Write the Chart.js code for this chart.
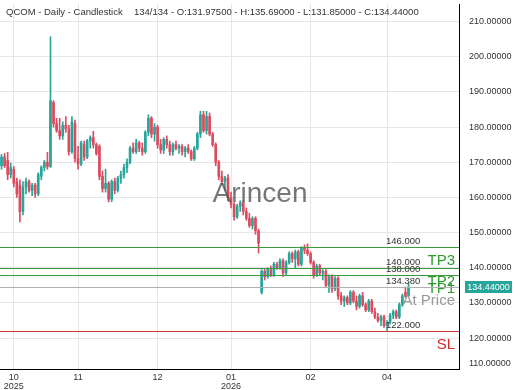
<!DOCTYPE html>
<html><head><meta charset="utf-8">
<script src="https://cdn.jsdelivr.net/npm/chart.js@4.4.1/dist/chart.umd.min.js"></script>
<style>html,body{margin:0;padding:0;background:#fff;overflow:hidden}canvas{display:block}</style>
</head><body>
<canvas id="c" width="520" height="390"></canvas>
<script>
const symbolTitle = 'QCOM - Daily - Candlestick';
const ohlcTitle = '134/134 - O:131.97500 - H:135.69000 - L:131.85000 - C:134.44000';

const opens = [
169.0,171.5,170.5,166.5,168.0,164.5,163.5,156.0,163.0,164.5,
162.0,163.5,161.0,166.0,168.5,170.0,168.8,187.0,181.0,179.0,
177.5,180.5,179.5,173.0,181.0,171.0,169.5,175.0,171.5,176.0,
177.0,175.0,174.5,166.0,162.5,164.0,159.5,164.5,162.0,165.5,
166.5,168.5,170.0,174.0,173.0,175.5,174.0,173.0,178.5,182.5,
178.0,180.0,175.0,173.5,176.5,175.0,173.0,175.0,174.0,174.5,
173.0,174.0,173.0,171.0,174.0,178.0,183.5,179.0,183.0,178.0,
175.0,170.0,166.0,164.5,165.5,160.0,158.0,154.5,157.5,158.5,
156.0,154.0,152.0,154.0,150.5,133.0,139.0,137.5,139.5,138.0,
141.0,140.0,142.0,138.5,141.5,144.0,142.5,144.5,141.0,145.5,
145.0,144.0,141.5,138.0,140.5,138.5,139.0,135.0,137.5,134.0,
137.0,132.0,130.5,131.5,130.0,133.0,130.5,129.0,132.0,129.5,
128.0,130.5,127.5,126.0,125.0,126.0,123.5,124.5,126.5,127.5,
126.0,129.5,133.0,131.975];
const highs = [
172.2,172.5,172.8,169.8,168.8,165.5,165.0,164.5,165.5,165.0,
164.0,164.0,167.0,169.0,170.5,172.8,205.7,187.5,182.5,182.5,
181.5,183.0,180.5,183.0,182.0,174.5,176.0,176.0,176.5,177.5,
178.8,175.5,175.0,167.5,168.0,164.5,165.0,165.5,166.0,167.5,
169.5,171.0,174.5,175.5,176.5,176.0,175.5,179.0,183.5,183.0,
181.0,180.5,176.5,177.0,177.5,176.0,175.5,176.0,175.0,175.0,
174.5,175.0,173.5,174.5,178.5,184.5,184.5,184.5,184.0,178.5,
175.5,170.5,167.5,166.0,166.5,161.5,158.5,158.0,159.0,159.0,
157.0,155.5,154.5,154.5,151.0,139.5,139.5,140.0,140.5,141.5,
141.5,142.5,142.5,142.0,144.5,144.5,145.0,145.0,146.0,146.5,
146.8,144.5,142.0,141.0,141.0,139.5,139.5,138.0,138.0,137.5,
137.5,133.0,132.0,132.0,133.5,133.5,132.0,132.5,133.0,130.0,
131.0,131.0,128.5,127.0,126.5,126.5,125.0,127.0,128.0,128.0,
130.0,132.5,134.5,135.69];
const lows = [
168.0,168.5,165.0,165.5,163.0,160.0,153.0,155.0,161.0,161.5,
160.5,160.0,160.5,165.0,167.5,168.0,168.5,180.0,178.5,176.5,
176.5,178.5,172.0,172.5,170.0,168.0,169.0,170.5,171.0,174.0,
174.0,172.0,165.0,161.5,161.5,158.7,158.8,161.0,161.5,164.0,
165.5,167.0,169.5,172.5,172.5,173.0,172.0,172.5,177.5,177.0,
176.0,174.0,172.5,172.5,174.0,172.0,172.0,173.5,172.5,172.0,
171.5,172.5,170.5,170.5,173.5,177.0,178.5,178.0,177.5,174.5,
169.0,165.0,163.5,162.0,159.0,157.0,153.5,154.0,156.0,155.0,
153.5,151.5,151.0,149.5,144.2,132.5,136.5,137.0,137.5,137.5,
139.5,139.5,137.5,138.0,141.0,141.5,140.0,140.5,140.5,144.0,
143.5,141.0,137.0,137.5,138.0,136.5,134.5,133.0,133.0,133.5,
131.0,129.5,129.0,129.5,129.5,130.0,128.0,128.5,129.0,127.5,
127.5,127.0,125.5,124.5,123.5,123.0,122.0,124.0,125.5,125.5,
125.5,129.0,131.5,131.85];
const closes = [
171.5,169.0,166.5,168.5,164.0,161.0,156.0,163.0,164.5,162.0,
163.5,161.0,166.5,168.5,170.0,168.8,187.5,181.0,179.0,177.5,
180.5,179.5,173.0,181.5,171.0,169.5,175.5,171.5,176.0,177.0,
175.0,172.5,166.0,162.5,164.0,159.5,164.5,162.0,165.5,166.5,
168.5,170.0,174.0,173.0,175.5,174.0,173.0,178.5,182.5,178.0,
180.0,175.0,173.5,176.5,175.0,173.0,175.0,174.0,174.5,173.0,
174.0,173.0,171.0,174.0,178.0,183.5,179.0,183.0,178.0,175.0,
170.0,166.0,164.5,165.5,160.0,158.0,154.5,157.5,158.5,156.0,
154.0,152.0,154.0,150.5,147.0,139.0,137.5,139.5,138.0,141.0,
140.0,142.0,138.5,141.5,144.0,142.5,144.5,141.0,145.5,145.0,
144.0,141.5,138.0,140.5,138.5,139.0,135.0,137.5,134.0,137.0,
132.0,130.5,131.5,130.0,133.0,130.5,129.0,132.0,129.5,128.0,
130.5,127.5,126.0,125.0,126.0,123.5,124.5,126.5,127.5,126.0,
129.5,132.0,131.975,134.44];

const lastPrice = 134.44;
const lastPriceLabel = '134.44000';
const emptySlotsRight = 16;
const monthTickIndex = [4, 25, 51, 75, 101, 126];
const monthTickLabels = [['10','2025'], '11', '12', ['01','2026'], '02', '04'];
const yTickValues = [120,130,140,150,160,170,180,190,200,210];
const yBottomLabel = '110.00000';
const levelValues = [146, 140, 138, 134.38, 122];
const levelPriceLabels = ['146.000','140.000','138.000','134.380','122.000'];
const levelNames = ['TP3','TP2','TP1','At Price','SL'];
const watermark = 'Arincen';

const FONT = '"Liberation Sans", Arial, sans-serif';
const UP = '#26a69a', DOWN = '#dc4b5f';
const levelLineColors = ['#3c9a3c','#3c9a3c','#3c9a3c','#b0b0b0','#d03636'];
const levelTextColors = ['#2f9a2f','#2f9a2f','#2f9a2f','#999999','#d02a2a'];

const nSlots = closes.length + emptySlotsRight;
const categories = Array.from({length: nSlots}, (_, i) => String(i));
const candleColors = closes.map((c, i) => c >= opens[i] ? UP : DOWN);

const overlay = {
  id: 'overlay',
  afterDatasetsDraw(chart) {
    const {ctx, chartArea: a, scales: {y}} = chart;
    ctx.save();
    ctx.font = '28px ' + FONT;
    ctx.fillStyle = 'rgba(85,85,85,0.8)';
    ctx.textAlign = 'center'; ctx.textBaseline = 'middle';
    ctx.fillText(watermark, 260, 194);
    levelValues.forEach((v, k) => {
      const py = Math.round(y.getPixelForValue(v));
      ctx.fillStyle = levelLineColors[k];
      ctx.fillRect(Math.round(a.left), py, Math.round(a.right - a.left), 1);
      ctx.font = '9.5px ' + FONT; ctx.fillStyle = '#333';
      ctx.textAlign = 'left'; ctx.textBaseline = 'bottom';
      ctx.fillText(levelPriceLabels[k], 386, py - 0.5);
      ctx.font = '15px ' + FONT; ctx.fillStyle = levelTextColors[k];
      ctx.textAlign = 'right'; ctx.textBaseline = 'middle';
      ctx.fillText(levelNames[k], 455, py + 14);
    });
    ctx.restore();
  },
  afterDraw(chart) {
    const {ctx, chartArea: a, scales: {y}} = chart;
    ctx.save();
    ctx.font = '9.5px ' + FONT; ctx.fillStyle = '#333';
    ctx.textAlign = 'left'; ctx.textBaseline = 'middle';
    ctx.fillText(symbolTitle, 6, 12);
    ctx.fillText(ohlcTitle, 134, 12);
    ctx.font = '9px ' + FONT; ctx.fillStyle = '#333';
    ctx.fillText(yBottomLabel, a.right + 10, a.bottom - 5);
    const py = y.getPixelForValue(lastPrice);
    ctx.fillStyle = UP;
    ctx.fillRect(a.right + 6, Math.round(py) - 6, 47, 12);
    ctx.fillStyle = '#fff'; ctx.textAlign = 'center';
    ctx.fillText(lastPriceLabel, a.right + 29.5, Math.round(py) + 0.5);
    ctx.restore();
  }
};

new Chart(document.getElementById('c'), {
  type: 'bar',
  data: {
    labels: categories,
    datasets: [
      { data: lows.map((l, i) => [l, highs[i]]), backgroundColor: candleColors, barThickness: 1, grouped: false, order: 2 },
      { data: opens.map((o, i) => [o, closes[i]]), backgroundColor: candleColors, barThickness: 2, minBarLength: 1, grouped: false, order: 1 }
    ]
  },
  options: {
    responsive: false, animation: false, devicePixelRatio: 1,
    layout: { padding: { top: 4, left: 0, right: 0, bottom: 0 } },
    plugins: { legend: { display: false }, tooltip: { enabled: false } },
    scales: {
      x: {
        type: 'category', offset: true,
        grid: { color: '#e6e6e6', drawTicks: false, offset: false },
        border: { color: '#000', width: 1 },
        ticks: {
          autoSkip: false, maxRotation: 0, minRotation: 0, padding: 4,
          color: '#333', font: { family: FONT, size: 9, lineHeight: 1 },
          callback: (v, i) => { const k = monthTickIndex.indexOf(i); return k < 0 ? null : monthTickLabels[k]; }
        },
        afterFit: s => { s.height = 21; s.paddingLeft = 0; s.paddingRight = 0; }
      },
      y: {
        position: 'right', min: 111.2, max: 215,
        afterBuildTicks: s => { s.ticks = yTickValues.map(v => ({ value: v })); },
        grid: { color: '#e6e6e6', drawTicks: false },
        border: { color: '#000', width: 1 },
        ticks: { padding: 10, color: '#333', font: { family: FONT, size: 9 }, callback: v => Number(v).toFixed(5) },
        afterFit: s => { s.width = 61; s.paddingTop = 0; s.paddingBottom = 0; }
      }
    }
  },
  plugins: [overlay]
});
</script>
</body></html>
